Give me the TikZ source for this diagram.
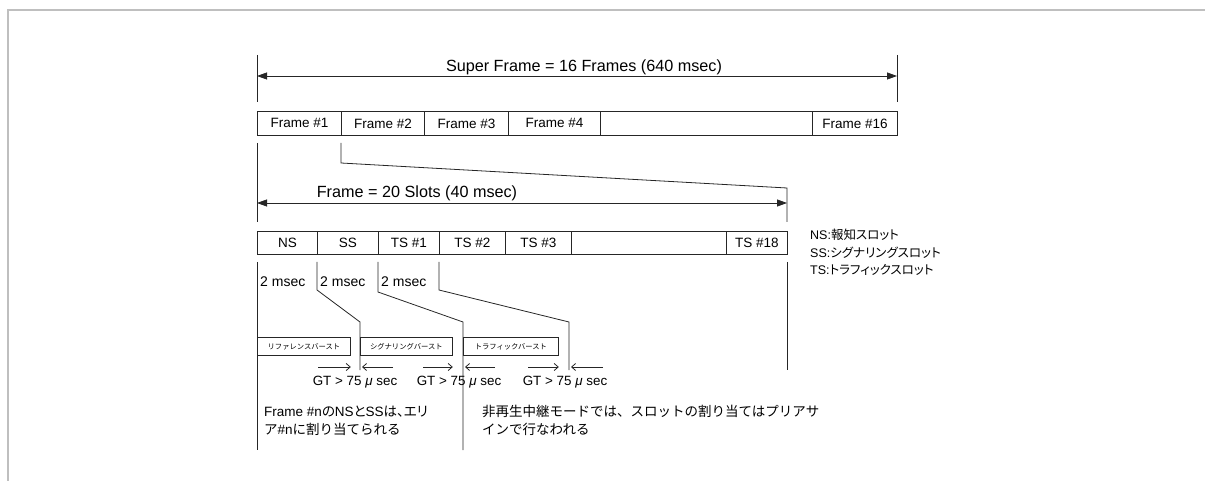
\documentclass[tikz,border=0pt]{standalone}
\usepackage{fontspec}
\setmainfont{Liberation Sans}
\newfontfamily\jp{Noto Sans CJK JP}
\newfontfamily\jpp{Noto Sans CJK JP}[RawFeature=+palt]
\usetikzlibrary{arrows.meta}
\begin{document}
\begin{tikzpicture}[x=1pt,y=-1pt,
  ln/.style={line width=0.8pt, draw=black!85},
  frame/.style={line width=2pt, draw=black!25},
  cell/.style={draw=black!85, line width=0.8pt, inner sep=0pt, anchor=north west, font=\fontsize{13.5}{15}\selectfont},
  burst/.style={draw=black!85, line width=0.8pt, inner sep=0pt, anchor=north west, minimum height=18pt, font=\fontsize{7.3}{9}\selectfont\jp},
  dimarrow/.style={ln, {Triangle[length=10pt,width=7pt]}-{Triangle[length=10pt,width=7pt]}},
  gt/.style={ln, -{Straight Barb[length=4pt,width=7pt]}},
  lbl/.style={inner sep=0pt, font=\fontsize{14}{16}\selectfont},
  title/.style={inner sep=0pt, font=\fontsize{16.2}{18}\selectfont},
  gttext/.style={inner sep=0pt, font=\fontsize{13.4}{15}\selectfont},
  note/.style={inner sep=0pt, anchor=north west, align=left, font=\fontsize{13.5}{18}\selectfont},
]
\useasboundingbox (0,0) rectangle (1205,481);
% outer gray border
\coordinate (bTL) at (8,10);
\coordinate (bTR) at (1205,10);
\coordinate (bBL) at (8,481);
\draw[frame] (bTR) -- (bTL) -- (bBL);

% ---- Super frame ----
\coordinate (sfA) at (257,55);
\coordinate (sfB) at (257,102);
\coordinate (sfC) at (897,55);
\coordinate (sfD) at (897,102);
\coordinate (sfL) at (257,76);
\coordinate (sfR) at (897,76);
\draw[ln] (sfA) -- (sfB);
\draw[ln] (sfC) -- (sfD);
\draw[dimarrow] (sfL) -- (sfR);
\node[title] (sftxt) at (584,67) {Super Frame = 16 Frames (640 msec)};

% frame row
\node[cell, minimum width=84pt, minimum height=24pt] (f1) at (257,111) {Frame \#1};
\node[cell, minimum width=83pt, minimum height=24pt] (f2) at (341,111) {Frame \#2};
\node[cell, minimum width=84pt, minimum height=24pt] (f3) at (424,111) {Frame \#3};
\node[cell, minimum width=92pt, minimum height=24pt] (f4) at (508,111) {Frame \#4};
\node[cell, minimum width=212pt, minimum height=24pt] (fe) at (600,111) {};
\node[cell, minimum width=85pt, minimum height=24pt] (f16) at (812,111) {Frame \#16};

% zoom lines
\coordinate (zA) at (257,143);
\coordinate (zB) at (257,222);
\coordinate (zC) at (341,143);
\coordinate (zD) at (341,163);
\coordinate (zE) at (787,188);
\coordinate (zF) at (787,222);
\draw[ln] (zA) -- (zB);
\draw[ln] (zC) -- (zD) -- (zE) -- (zF);
\coordinate (frL) at (257,203);
\coordinate (frR) at (787,203);
\draw[dimarrow] (frL) -- (frR);
\node[title] (frtxt) at (417,193) {Frame = 20 Slots (40 msec)};

% slot row
\node[cell, minimum width=60pt, minimum height=23pt] (ns) at (257,231) {NS};
\node[cell, minimum width=61pt, minimum height=23pt] (ss) at (317,231) {SS};
\node[cell, minimum width=61pt, minimum height=23pt] (ts1) at (378,231) {TS \#1};
\node[cell, minimum width=66pt, minimum height=23pt] (ts2) at (439,231) {TS \#2};
\node[cell, minimum width=66pt, minimum height=23pt] (ts3) at (505,231) {TS \#3};
\node[cell, minimum width=155pt, minimum height=23pt] (tse) at (571,231) {};
\node[cell, minimum width=61pt, minimum height=23pt] (ts18) at (726,231) {TS \#18};

% legend
\node[note, font=\fontsize{12.5}{17.5}\selectfont] (legend) at (810,229) {NS:{\jpp 報知スロット}\\SS:{\jpp シグナリングスロット}\\TS:{\jpp トラフィックスロット}};

% slot detail lines
\coordinate (s0a) at (257,262);
\coordinate (s0b) at (257,450);
\coordinate (s1a) at (317,262);
\coordinate (s1b) at (317,290);
\coordinate (s1c) at (360,322);
\coordinate (s1d) at (360,370);
\coordinate (s2a) at (378,262);
\coordinate (s2b) at (378,292);
\coordinate (s2c) at (463,322);
\coordinate (s2d) at (463,450);
\coordinate (s3a) at (439,262);
\coordinate (s3b) at (439,290);
\coordinate (s3c) at (569,322);
\coordinate (s3d) at (569,370);
\coordinate (s4a) at (787,262);
\coordinate (s4b) at (787,370);
\draw[ln] (s0a) -- (s0b);
\draw[ln] (s1a) -- (s1b) -- (s1c) -- (s1d);
\draw[ln] (s2a) -- (s2b) -- (s2c) -- (s2d);
\draw[ln] (s3a) -- (s3b) -- (s3c) -- (s3d);
\draw[ln] (s4a) -- (s4b);

\node[lbl, anchor=west] (ms1) at (260,282) {2 msec};
\node[lbl, anchor=west] (ms2) at (320,282) {2 msec};
\node[lbl, anchor=west] (ms3) at (381,282) {2 msec};

% bursts
\node[burst, minimum width=93pt] (b1) at (257,337) {リファレンスバースト};
\node[burst, minimum width=92pt] (b2) at (360,337) {シグナリングバースト};
\node[burst, minimum width=95pt] (b3) at (463,337) {トラフィックバースト};

% guard time arrows
\coordinate (g1s) at (318,367);
\coordinate (g1e) at (b1.east |- g1s);
\coordinate (g1r) at (393,367);
\coordinate (g1t) at (362,367);
\coordinate (g2s) at (423,367);
\coordinate (g2e) at (b2.east |- g2s);
\coordinate (g2r) at (495,367);
\coordinate (g2t) at (465,367);
\coordinate (g3s) at (528,367);
\coordinate (g3e) at (b3.east |- g3s);
\coordinate (g3r) at (603,367);
\coordinate (g3t) at (571,367);
\draw[gt] (g1s) -- (g1e);
\draw[gt] (g1r) -- (g1t);
\draw[gt] (g2s) -- (g2e);
\draw[gt] (g2r) -- (g2t);
\draw[gt] (g3s) -- (g3e);
\draw[gt] (g3r) -- (g3t);
\node[gttext] (gtx1) at (355,382) {GT > 75 \textit{μ} sec};
\node[gttext] (gtx2) at (459,382) {GT > 75 \textit{μ} sec};
\node[gttext] (gtx3) at (565,382) {GT > 75 \textit{μ} sec};

% notes
\node[note] (n1) at (264,406) {Frame \#n{\jpp の}NS{\jpp と}SS{\jpp は、エリ}\\{\jp ア}\#n{\jp に割り当てられる}};
\node[note] (n2) at (482,405) {\jp 非再生中継モードでは、スロットの割り当てはプリアサ\\\jp インで行なわれる};
\end{tikzpicture}
\end{document}
